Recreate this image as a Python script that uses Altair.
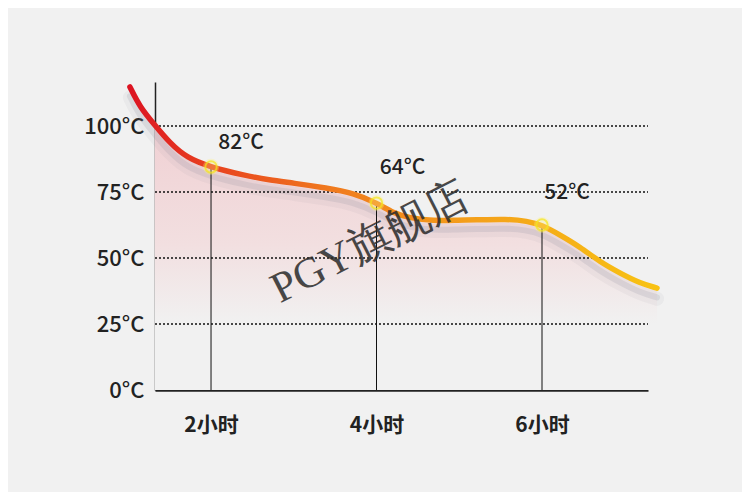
import altair as alt
import pandas as pd

# curve (hours, °C)
curve_hours = [1.02, 1.14, 1.32, 1.50, 1.71, 1.99, 2.39, 2.71, 2.99, 3.40, 3.72, 4.01, 4.20, 4.40, 4.68,
               5.01, 5.17, 5.58, 5.82, 6.0, 6.22, 6.46, 6.70, 6.94, 7.18, 7.39]
curve_temps = [114.8, 107.2, 100.4, 93.6, 87.9, 84.5, 81.4, 79.5, 78.4, 76.5, 74.6, 70.8, 67.0, 65.2, 64.0,
               64.4, 64.4, 64.8, 64.0, 62.5, 58.7, 54.2, 48.5, 44.3, 40.5, 38.6]

mark_hours = [2, 4, 6]
mark_temps = [84.5, 70.8, 62.5]
mark_labels = ["82°C", "64°C", "52°C"]

y_ticks = [0, 25, 50, 75, 100]
x_ticks = [2, 4, 6]

BG = "#f1f1f1"
FONT = "Noto Sans CJK SC"
INTERP = "basis"

curve = pd.DataFrame({"h": curve_hours, "t": curve_temps})
marks = pd.DataFrame({"h": mark_hours, "t": mark_temps, "label": mark_labels})
grid = pd.DataFrame({"g": y_ticks[1:]})

xs = alt.Scale(domain=[1.323, 7.281], nice=False, zero=False)
ys = alt.Scale(domain=[0, 116.67], nice=False)

x_axis = alt.Axis(values=x_ticks, labelExpr="datum.value + '小时'", ticks=False, grid=False,
                  domainColor="#222", domainWidth=2.5, labelFont=FONT, labelFontSize=21,
                  labelFontWeight="bold", labelColor="#222", labelPadding=24, title=None)
y_axis = alt.Axis(values=y_ticks, labelExpr="datum.value + '°C'", ticks=False, grid=False,
                  domainColor="#222", domainWidth=1.5, labelFont=FONT, labelFontSize=22,
                  labelFontWeight=500, labelColor="#222", labelPadding=11, title=None)

base = alt.Chart(curve)

area = base.transform_filter("datum.h >= 1.32").mark_area(
    interpolate=INTERP,
    color=alt.Gradient(gradient="linear", x1=0, x2=0, y1=0, y2=1,
                       stops=[alt.GradientStop(color="#f0d0d3", offset=0),
                              alt.GradientStop(color="#f2dfe0", offset=0.45),
                              alt.GradientStop(color="#f1f1f1", offset=0.75),
                              alt.GradientStop(color="#f1f1f1", offset=1)]),
).encode(x=alt.X("h:Q", scale=xs, axis=x_axis), y=alt.Y("t:Q", scale=ys, axis=y_axis))

shadow1 = base.transform_calculate(ts="datum.t - 4").mark_line(
    interpolate=INTERP, color="#8a8a9a", strokeWidth=14, opacity=0.08, strokeCap="round"
).encode(x=alt.X("h:Q", scale=xs), y=alt.Y("ts:Q", scale=ys))
shadow2 = base.transform_calculate(ts="datum.t - 3.5").mark_line(
    interpolate=INTERP, color="#8a8a9a", strokeWidth=6, opacity=0.18, strokeCap="round"
).encode(x=alt.X("h:Q", scale=xs), y=alt.Y("ts:Q", scale=ys))

grid_rules = alt.Chart(grid).mark_rule(color="#111", strokeWidth=1.3, strokeDash=[2, 2]).encode(
    y=alt.Y("g:Q", scale=ys), x=alt.value(0), x2=alt.value(493))

rules = alt.Chart(marks).transform_calculate(z="0").mark_rule(color="#111", strokeWidth=1).encode(
    x=alt.X("h:Q", scale=xs), y=alt.Y("z:Q", scale=ys), y2="t:Q")

line = base.mark_line(
    interpolate=INTERP, strokeWidth=5.5, strokeCap="round",
    color=alt.Gradient(gradient="linear", x1=0, x2=1, y1=0, y2=0,
                       stops=[alt.GradientStop(color="#dc1422", offset=0),
                              alt.GradientStop(color="#e8401f", offset=0.15),
                              alt.GradientStop(color="#f07a1e", offset=0.38),
                              alt.GradientStop(color="#f4a01a", offset=0.65),
                              alt.GradientStop(color="#f8c214", offset=1)]),
).encode(x=alt.X("h:Q", scale=xs), y=alt.Y("t:Q", scale=ys))

glow = alt.Chart(marks).mark_point(shape="circle", size=260, filled=True, color="#fff27a", opacity=0.3).encode(
    x=alt.X("h:Q", scale=xs), y=alt.Y("t:Q", scale=ys))
pts = alt.Chart(marks).mark_point(shape="circle", size=130, filled=False, color="#f5e61a", strokeWidth=2).encode(
    x=alt.X("h:Q", scale=xs), y=alt.Y("t:Q", scale=ys))

offsets = [(30, -24), (26, -35), (25, -32)]
labels = []
for i, (dx, dy) in enumerate(offsets):
    labels.append(
        alt.Chart(marks).transform_filter(f"datum.label == '{mark_labels[i]}'").mark_text(
            font=FONT, fontSize=21, fontWeight=500, color="#222", dx=dx, dy=dy, align="center", baseline="middle"
        ).encode(x=alt.X("h:Q", scale=xs), y=alt.Y("t:Q", scale=ys), text="label:N")
    )

watermark = alt.Chart(pd.DataFrame({"w": ["PGY旗舰店"]})).mark_text(
    font="Liberation Serif", fontSize=43, color="#2a2a2a", angle=333, opacity=0.85,
    align="center", baseline="middle"
).encode(x=alt.value(215), y=alt.value(161), text="w:N")

chart = alt.layer(area, shadow1, shadow2, grid_rules, rules, line, glow, pts, *labels, watermark).properties(
    width=493, height=308, background=BG,
    padding={"left": 147, "top": 74, "right": 94, "bottom": 102},
    autosize=alt.AutoSizeParams(type="none"),
).configure_view(stroke=None)

chart.save("out.html", embed_options={"renderer": "svg", "actions": False})
